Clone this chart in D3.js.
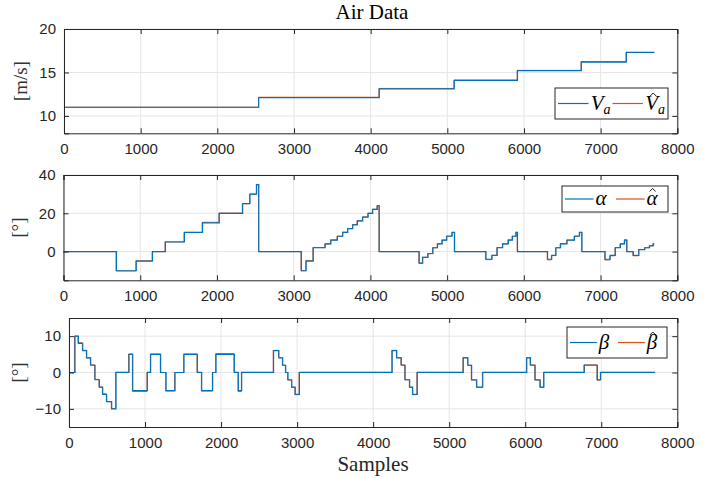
<!DOCTYPE html>
<html>
<head>
<meta charset="utf-8">
<script src="https://cdn.jsdelivr.net/npm/d3@7"></script>
<style>
  body { margin: 0; background: #fff; }
  svg text { font-family: "Liberation Sans", Arial, sans-serif; }
  .serif { font-family: "Liberation Serif", "DejaVu Serif", serif !important; }
</style>
</head>
<body>
<svg id="chart" width="727" height="478"></svg>
<script>
// x ticks shared by all three panels
const xTicks = [0, 1000, 2000, 3000, 4000, 5000, 6000, 7000, 8000]

// airspeed: [sample, value] where each step starts
const vaSteps = [[0, 11.0], [2540, 12.1], [4112, 13.1], [5090, 14.1], [5915, 15.2], [6748, 16.2], [7335, 17.3], [7700, 17.3]]
const vaHatSteps = [[0, 11.0], [2537, 12.15], [4109, 13.16], [5087, 14.12], [5912, 15.24], [6745, 16.26], [7332, 17.3], [7700, 17.3]]

// angle of attack
const alphaSteps = [[0, 0], [690, -10], [948, -5], [1160, 0], [1328, 5], [1576, 10], [1812, 15], [2030, 20], [2335, 25],
  [2430, 30], [2517, 35], [2545, 0], [3100, -10], [3162, -5], [3255, 2], [3410, 4], [3485, 6], [3570, 8], [3640, 10],
  [3705, 12], [3770, 14], [3830, 16], [3900, 18], [3970, 20], [4030, 22], [4090, 24], [4115, 0], [4636, -6], [4682, -3],
  [4750, -1], [4815, 2], [4875, 4], [4935, 6], [4995, 8], [5065, 10], [5097, 0], [5506, -4], [5585, -2], [5652, 2],
  [5724, 4], [5797, 6], [5851, 8], [5899, 10], [5917, 0], [6309, -4], [6363, -2], [6418, 2], [6478, 4], [6563, 6],
  [6660, 8], [6726, 10], [6757, 0], [7059, -4], [7125, -2], [7192, 2], [7258, 4], [7313, 6], [7343, 0], [7426, -2],
  [7499, 1], [7577, 2], [7638, 3], [7686, 4], [7700, 4]]
const alphaHatSteps = [[0, 0], [686, -10.1], [944, -4.8], [1156, 0], [1324, 5.1], [1572, 10], [1808, 15.3], [2026, 20.1], [2331, 25],
  [2426, 30], [2513, 35.1], [2542, 0], [3096, -10], [3158, -4.7], [3251, 2.1], [3406, 4], [3481, 6.1], [3566, 8], [3636, 10.1],
  [3701, 12], [3766, 14.1], [3826, 16], [3896, 18.1], [3966, 20], [4026, 22.1], [4086, 24], [4112, 0], [4632, -6.1], [4678, -3],
  [4746, -1.1], [4811, 2], [4871, 4.1], [4931, 6], [4991, 8.1], [5061, 10], [5094, 0], [5502, -4.2], [5581, -2], [5648, 2.1],
  [5720, 4], [5793, 6.1], [5847, 8], [5895, 10.1], [5914, 0], [6305, -4.3], [6359, -2.1], [6414, 2], [6474, 4.1], [6559, 6],
  [6656, 8.1], [6722, 10], [6754, 0], [7055, -4.4], [7121, -2.2], [7188, 2.1], [7254, 4], [7309, 6.1], [7340, 0], [7422, -2.2],
  [7495, 1.1], [7573, 2], [7634, 3.1], [7682, 4], [7700, 4]]

// sideslip
const betaSteps = [[0, 0], [79, 10], [123, 8], [180, 6], [232, 4], [285, 2], [342, -2], [399, -4], [443, -6], [495, -8],
  [561, -10], [618, 0], [789, 5], [838, -5], [1030, 0], [1074, 5], [1205, 0], [1276, -5], [1394, 0], [1512, 5], [1688, 0],
  [1745, -5], [1889, 0], [1933, 5], [2174, 0], [2227, -5], [2271, 0], [2690, 6], [2760, 4], [2810, 2], [2850, 0], [2880, -2],
  [2930, -4], [2975, -6], [3030, 0], [4250, 6], [4310, 4], [4370, 2], [4420, -2], [4480, -4], [4520, -6], [4580, 0],
  [5185, 4], [5246, 2], [5295, -2], [5362, -4], [5441, 0], [6020, 4], [6069, 2], [6130, -2], [6197, -4], [6245, 0],
  [6777, 2], [6948, -2], [6992, 0], [7706, 0]]
const betaHatSteps = [[0, 0], [72, 10], [119, 8.2], [176, 6.1], [228, 4], [281, 2.1], [338, -1.9], [395, -4], [439, -5.9], [491, -8],
  [557, -9.9], [614, 0.1], [785, 5.1], [834, -5.2], [1026, 0.1], [1070, 5.1], [1201, 0], [1272, -5.1], [1390, 0], [1508, 5.1], [1684, 0.1],
  [1741, -5.1], [1885, 0], [1929, 5.2], [2170, 0.1], [2223, -5.2], [2267, 0.1], [2686, 6.1], [2756, 4.1], [2806, 2], [2846, 0], [2876, -2.1],
  [2926, -4.1], [2971, -6.1], [3026, 0.1], [4246, 6.1], [4306, 4.1], [4366, 2.1], [4416, -2], [4476, -4.1], [4516, -6.1], [4576, 0.1],
  [5181, 4.1], [5242, 2], [5291, -2.1], [5358, -4.1], [5437, 0.1], [6016, 4.1], [6065, 2.1], [6126, -2.1], [6193, -4.1], [6241, 0.1],
  [6773, 2.1], [6944, -2.1], [6988, 0.1], [7706, 0.1]]

const panels = [
  { x0: 64, x1: 677.3, y0: 29, y1: 133.3, yDomain: [8, 20], yTicks: [10, 15, 20], yLabel: "[m/s]", labelX: 27,
    truth: vaSteps, est: vaHatSteps,
    legend: { x: 555, y: 88, w: 113, h: 31, sym: "V", sub: "a" } },
  { x0: 63.5, x1: 677.3, y0: 175, y1: 280.3, yDomain: [-15, 40], yTicks: [0, 20, 40], yLabel: "[°]", labelX: 25,
    truth: alphaSteps, est: alphaHatSteps,
    legend: { x: 562, y: 186, w: 106, h: 26, sym: "α", sub: "" } },
  { x0: 69, x1: 677.3, y0: 318, y1: 427, yDomain: [-15, 15], yTicks: [-10, 0, 10], yLabel: "[°]", labelX: 25,
    truth: betaSteps, est: betaHatSteps,
    legend: { x: 567, y: 327, w: 100, h: 31, sym: "β", sub: "" } }
]

const svg = d3.select("#chart")
const blue = "#0072BD", red = "#D95319", axisCol = "#262626"

panels.forEach(function(p) {
  let x = d3.scaleLinear().domain([0, 8000]).range([p.x0, p.x1])
  let y = d3.scaleLinear().domain(p.yDomain).range([p.y1, p.y0])
  let g = svg.append("g")

  // grid
  g.append("g").selectAll("line").data(xTicks).enter().append("line")
    .attr("x1", d => x(d)).attr("x2", d => x(d)).attr("y1", p.y0).attr("y2", p.y1)
    .attr("stroke", "#e6e6e6").attr("stroke-width", 1)
  g.append("g").selectAll("line").data(p.yTicks).enter().append("line")
    .attr("x1", p.x0).attr("x2", p.x1).attr("y1", d => y(d)).attr("y2", d => y(d))
    .attr("stroke", "#e6e6e6").attr("stroke-width", 1)

  // series, estimate first so the truth sits on top
  let line = d3.line().x(d => x(d[0])).y(d => y(d[1])).curve(d3.curveStepAfter)
  g.append("path").datum(p.est).attr("d", line)
    .attr("fill", "none").attr("stroke", red).attr("stroke-width", 1)
  g.append("path").datum(p.truth).attr("d", line)
    .attr("fill", "none").attr("stroke", blue).attr("stroke-width", 1.2)

  // axes with inward ticks on all sides
  let fmt = d3.format("d")
  let bottom = g.append("g").attr("transform", `translate(0,${p.y1})`)
    .call(d3.axisBottom(x).tickValues(xTicks).tickSize(-5).tickPadding(10).tickFormat(fmt))
  let left = g.append("g").attr("transform", `translate(${p.x0},0)`)
    .call(d3.axisLeft(y).tickValues(p.yTicks).tickSize(-5).tickPadding(8).tickFormat(fmt))
  let top = g.append("g").attr("transform", `translate(0,${p.y0})`)
    .call(d3.axisTop(x).tickValues(xTicks).tickSize(-5).tickFormat(""))
  let right = g.append("g").attr("transform", `translate(${p.x1},0)`)
    .call(d3.axisRight(y).tickValues(p.yTicks).tickSize(-5).tickFormat(""))
  ;[bottom, left, top, right].forEach(a => {
    a.select(".domain").attr("stroke", axisCol)
    a.selectAll(".tick line").attr("stroke", axisCol)
    a.selectAll("text").attr("fill", axisCol).style("font-size", "15px")
  })

  // y label
  g.append("text").attr("class", "serif")
    .attr("transform", `translate(${p.labelX},${(p.y0 + p.y1) / 2}) rotate(-90)`)
    .attr("text-anchor", "middle").style("font-size", "19px").attr("fill", "#333")
    .text(p.yLabel)

  // legend
  let L = p.legend
  let lg = g.append("g").attr("transform", `translate(${L.x},${L.y})`)
  lg.append("rect").attr("width", L.w).attr("height", L.h)
    .attr("fill", "#fff").attr("stroke", axisCol).attr("stroke-width", 1)
  let cy = L.h / 2
  let half = (L.w - 4) / 2
  ;[[blue, false], [red, true]].forEach(function(item, i) {
    let ox = 3 + i * half
    lg.append("line").attr("x1", ox).attr("x2", ox + half * 0.56).attr("y1", cy).attr("y2", cy)
      .attr("stroke", item[0]).attr("stroke-width", 1.2)
    let tx = ox + half * 0.6
    let t = lg.append("text").attr("class", "serif").attr("x", tx).attr("y", cy + 6)
      .style("font-size", "21px").style("font-style", "italic").attr("fill", "#000")
    t.append("tspan").text(L.sym)
    if (L.sub) t.append("tspan").attr("dy", 4).style("font-size", "14px").text(L.sub)
    if (item[1]) {
      // hat accent drawn as a small chevron
      let hx = tx + (L.sub ? 8 : 6), hy = cy - 10
      lg.append("path").attr("d", `M${hx - 3},${hy + 2.5}L${hx},${hy - 0.5}L${hx + 3},${hy + 2.5}`)
        .attr("fill", "none").attr("stroke", "#000").attr("stroke-width", 0.9)
    }
  })
})

// title and x label
svg.append("text").attr("class", "serif").attr("x", 372).attr("y", 19)
  .attr("text-anchor", "middle").style("font-size", "21px").attr("fill", "#000").text("Air Data")
svg.append("text").attr("class", "serif").attr("x", 373).attr("y", 471)
  .attr("text-anchor", "middle").style("font-size", "21px").attr("fill", "#262626").text("Samples")
</script>
</body>
</html>
